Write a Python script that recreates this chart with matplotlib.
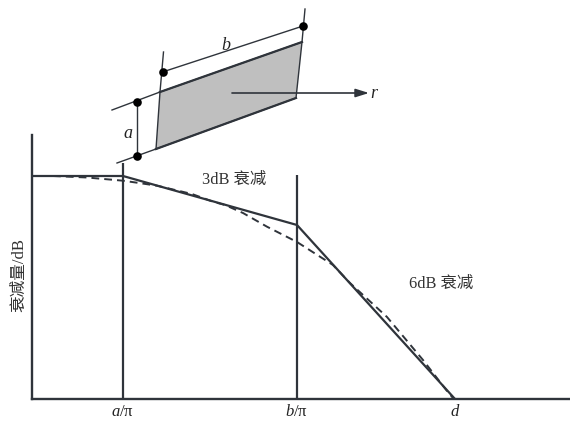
import matplotlib
matplotlib.use("Agg")
import matplotlib.pyplot as plt

plt.rcParams["mathtext.fontset"] = "custom"
plt.rcParams["mathtext.it"] = "Liberation Serif:italic"
plt.rcParams["mathtext.rm"] = "Liberation Serif"

W, H = 570, 421
INK = "#2f343b"
FONT = ["Liberation Serif", "Noto Sans CJK SC", "DejaVu Sans"]

# attenuation curves
asym_x = [0, 91, 265, 423]
asym_y = [223, 223, 174, 0]
smooth_x = [21, 55, 91, 105, 125, 160, 181, 193, 211, 235, 265, 301, 318, 355, 391, 415, 421]
smooth_y = [223, 221.5, 218.3, 216.3, 213.3, 205, 197.3, 194, 186, 172.3, 157, 134, 116, 82, 39, 8, 1]
corner_x = [91, 265]
corner_top = [236, 224]
tick_pos = [91, 265, 423]
tick_labels = ["$a$/π", "$b$/π", "$d$"]

# aperture sketch
plate_x = [160, 302, 296, 156]
plate_y = [92, 42, 98, 149]
edge_lines = [((112, 160), (110, 92)), ((117, 156), (163, 149)),
              ((163.5, 160), (52, 92)), ((305, 302), (9, 42)),
              ((136.5, 136.5), (102, 156)), ((162.5, 303), (72, 26))]
dot_x = [136.5, 136.5, 162.5, 303]
dot_y = [102, 156, 72, 26]

fig = plt.figure(figsize=(W / 100, H / 100), dpi=100, facecolor="white")

ax = fig.add_axes([32 / W, 1 - 399 / H, 538 / W, 264 / H])
ax.set_xlim(0, 538)
ax.set_ylim(0, 264)
ax.patch.set_alpha(0)
for s in ("top", "right"):
    ax.spines[s].set_visible(False)
for s in ("left", "bottom"):
    ax.spines[s].set_linewidth(1.7)
    ax.spines[s].set_color(INK)
ax.set_yticks([])
ax.set_xticks(tick_pos, tick_labels)
ax.tick_params(axis="x", length=0, pad=12.6, labelsize=12, labelcolor="#222222")
for t in ax.get_xticklabels():
    t.set_family(FONT)
    t.set_va("baseline")
ax.set_ylabel("衰减量/dB", family=FONT, fontsize=12, color="#333333", labelpad=3.4, y=0.47)

ax.plot(asym_x, asym_y, color=INK, lw=1.6, solid_joinstyle="miter")
ax.plot(smooth_x, smooth_y, color=INK, lw=1.4, ls=(0, (4, 2.6)))
ax.vlines(corner_x, 0, corner_top, color=INK, lw=1.6)

ov = fig.add_axes([0, 0, 1, 1])
ov.set_xlim(0, W)
ov.set_ylim(H, 0)
ov.axis("off")
ov.fill(plate_x, plate_y, facecolor="#bfbfbf", edgecolor=INK, lw=1.0, joinstyle="miter")
for xs, ys in edge_lines:
    ov.plot(xs, ys, color=INK, lw=1.0)
ov.plot(plate_x[:2], plate_y[:2], color=INK, lw=1.6)
ov.plot(plate_x[2:], plate_y[2:], color=INK, lw=1.6)
ov.plot(dot_x, dot_y, "o", color="black", ms=6.2, mew=0)
ov.annotate("", xy=(369, 93), xytext=(232, 93),
            arrowprops=dict(arrowstyle="-|>,head_length=0.8,head_width=0.25", color=INK, lw=1.2, shrinkA=0, shrinkB=0))
for x, y, s in [(226, 45, "b"), (128, 133, "a"), (374, 93, "r")]:
    ov.text(x, y, s, family="Liberation Serif", style="italic", fontsize=13, color="#222222", ha="center", va="center")
ov.text(234, 180, "3dB 衰减", family=FONT, fontsize=11.8, color="#333333", ha="center", va="center")
ov.text(441, 284, "6dB 衰减", family=FONT, fontsize=11.8, color="#333333", ha="center", va="center")

fig.savefig("out.png", dpi=100)
